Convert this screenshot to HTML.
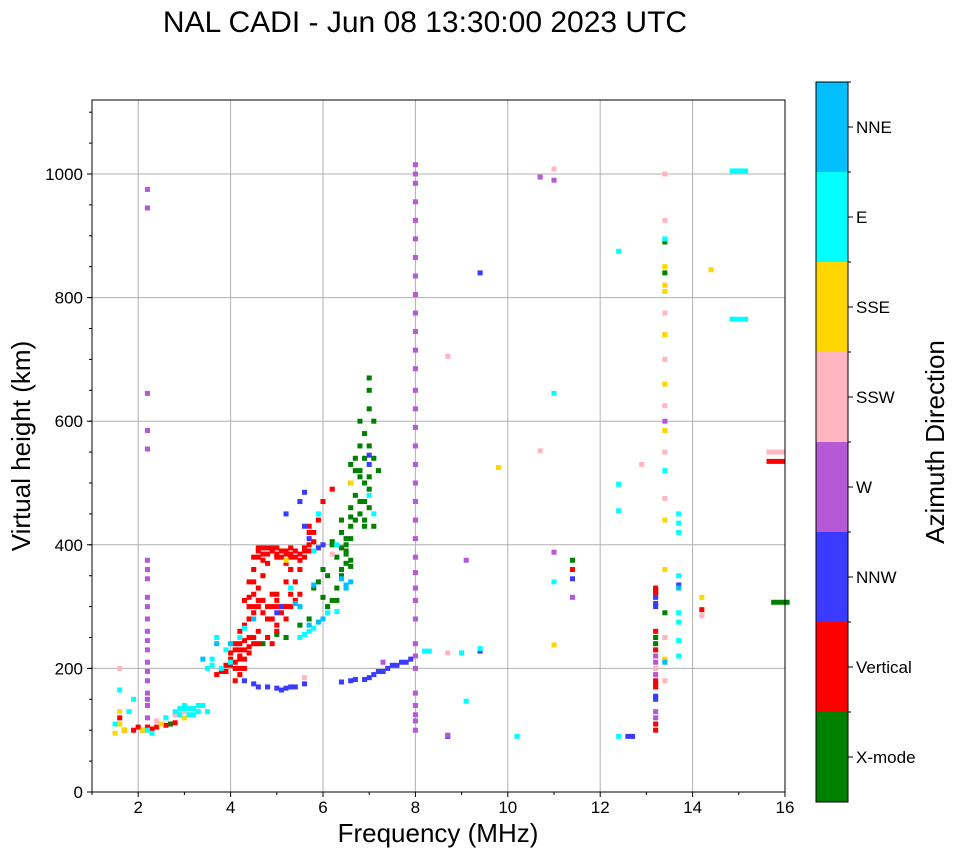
<!DOCTYPE html>
<html><head><meta charset="utf-8"><style>
body{margin:0;background:#fff;font-family:"Liberation Sans",sans-serif}
svg text{font-family:"Liberation Sans",sans-serif}
</style></head><body>
<svg id="chart" width="958" height="857">
<text x="425" y="32" font-size="30" text-anchor="middle">NAL CADI - Jun 08 13:30:00 2023 UTC</text>
<g id="grid"></g><g id="marks"></g><g id="axes"></g><g id="cbar"></g>
</svg>
<script>
const xTicks=[2,4,6,8,10,12,14,16];
const yTicks=[0,200,400,600,800,1000];
const dirLabels=["X-mode","Vertical","NNW","W","SSW","SSE","E","NNE"];
const dirColors=["#008000","#ff0000","#3b3bff","#b659d6","#ffb6c1","#ffd700","#00ffff","#00bfff"];
const xmode=[[6.2,310],[6.3,330],[6.4,350],[6.5,370],[6.3,380],[6.5,400],[6.6,410],[6.4,420],[6.6,430],[6.7,440],[6.8,450],[6.6,460],[6.7,480],[6.6,500],[6.8,520],[6.6,530],[6.7,540],[6.9,470],[7.0,490],[7.0,510],[7.1,540],[7.0,560],[6.9,580],[7.1,600],[7.0,620],[7.0,650],[7.0,670],[6.8,600],[6.8,560],[7.1,430],[6.9,430],[6.2,400],[6.0,360],[5.9,340],[5.8,330],[5.2,250],[5.0,255],[4.7,240],[13.2,250],[13.2,240],[13.4,890],[13.4,840],[13.4,290],[15.9,307,0.4],[11.4,375],[2.7,110],[6.4,440],[6.5,390],[7.2,520],[6.9,540],[6.5,410],[6.6,375],[6.4,360],[6.3,310],[6.1,300],[6.2,405],[6.4,395],[6.5,385],[6.6,365],[6.1,350],[6.0,315],[5.7,280],[5.5,270],[6.8,510],[6.9,500],[6.7,520],[6.8,470],[7.0,460],[6.9,440],[6.6,445]];
const vertical=[[4.1,180],[4.2,190],[4.1,210],[4.2,220],[4.3,230],[4.2,240],[4.4,250],[4.5,240],[4.6,260],[4.8,250],[4.9,240],[5.0,260],[4.3,270],[4.4,280],[4.5,290],[4.6,300],[4.7,310],[4.8,300],[4.9,320],[5.0,300],[5.1,290],[5.2,280],[5.3,300],[5.4,310],[4.5,320],[4.6,330],[4.4,340],[4.7,350],[4.5,360],[4.8,370],[4.5,380],[4.6,390],[4.7,385],[4.8,395],[4.9,390],[5.0,380],[5.1,390],[5.2,385],[5.3,380],[5.4,390],[5.5,375],[5.6,380],[5.7,390],[5.8,420],[5.7,430],[5.9,440],[6.0,470],[6.2,490],[5.4,340],[5.3,360],[5.5,320],[4.4,300],[4.3,310],[4.9,280],[5.0,270],[4.2,200],[4.3,215],[4.0,205],[3.9,195],[4.4,235],[4.6,395],[4.7,375],[5.0,395],[5.2,370],[5.3,395],[4.2,260],[4.1,230],[4.0,225],[4.1,240],[4.2,215],[4.3,245],[4.1,200],[4.3,200],[4.2,230],[4.0,215],[4.4,225],[4.5,250],[4.6,240],[4.5,300],[4.6,310],[4.4,315],[4.5,340],[4.9,300],[5.1,300],[5.2,300],[5.0,310],[4.9,395],[5.0,385],[5.1,380],[4.8,385],[4.7,395],[4.6,380],[5.2,390],[5.3,385],[5.4,380],[5.5,385],[5.6,390],[5.7,400],[5.8,405],[5.7,420],[5.5,360],[5.6,395],[4.7,290],[4.8,280],[5.0,320],[5.2,340],[5.3,320],[3.7,190],[3.8,195],[3.9,205],[1.7,100],[1.9,100],[2.0,105],[2.2,105],[2.4,105],[2.6,108],[2.8,112],[1.6,120],[2.1,100],[2.3,102],[13.2,100],[13.2,110],[13.2,170],[13.2,180],[13.2,230],[13.2,260],[13.2,320],[13.2,330],[13.2,325],[13.2,175],[14.2,295],[15.8,535,0.4],[11.4,360]];
const nnw=[[4.6,170],[4.8,170],[5.0,168],[5.1,165],[5.2,168],[5.3,170],[5.4,170],[4.3,180],[4.5,175],[5.6,175],[6.4,178],[6.6,180],[6.7,182],[6.9,182],[7.0,185],[7.1,190],[7.2,195],[7.3,195],[7.4,200],[7.5,205],[7.6,205],[7.7,210],[7.8,210],[7.9,215],[8.7,90],[9.4,840],[9.4,228],[11.4,345],[12.6,90],[12.7,90],[13.2,315],[13.2,305],[13.2,300],[13.2,155],[13.2,150],[5.6,430],[5.7,410],[5.5,470],[5.6,485],[5.2,450],[7.0,530],[7.0,545],[13.7,335],[6.0,400],[5.9,395],[5.0,290],[5.1,300]];
const wdir=[[8,100],[8,115],[8,125],[8,140],[8,160],[8,200],[8,220],[8,240],[8,280],[8,310],[8,330],[8,355],[8,380],[8,410],[8,440],[8,470],[8,500],[8,530],[8,560],[8,590],[8,620],[8,650],[8,685],[8,715],[8,745],[8,775],[8,805],[8,835],[8,865],[8,895],[8,925],[8,955],[8,985],[8,1000],[8,1015],[2.2,120],[2.2,140],[2.2,150],[2.2,160],[2.2,180],[2.2,195],[2.2,210],[2.2,230],[2.2,245],[2.2,260],[2.2,280],[2.2,300],[2.2,315],[2.2,345],[2.2,360],[2.2,375],[2.2,555],[2.2,585],[2.2,645],[2.2,945],[2.2,975],[13.2,220],[13.2,210],[13.2,130],[13.2,120],[13.2,190],[10.7,995],[11.0,990],[11.0,388],[11.4,315],[9.1,375],[8.7,92],[13.4,600],[7.3,210]];
const ssw=[[1.6,200],[2.4,115],[2.6,120],[2.8,125],[3.0,130],[13.4,1000],[13.4,925],[13.4,775],[13.4,740],[13.4,700],[13.4,625],[13.4,550],[13.4,475],[13.4,250],[13.4,180],[12.9,530],[8.7,705],[8.7,225],[11.0,1008],[10.7,552],[15.8,550,0.4],[14.2,285],[6.2,385],[5.6,185],[13.2,200]];
const sse=[[1.5,95],[1.6,110],[1.6,130],[1.7,100],[2.1,100],[2.5,110],[3.0,120],[13.4,850],[13.4,820],[13.4,810],[13.4,740],[13.4,660],[13.4,585],[13.4,440],[13.4,360],[13.4,215],[14.4,845],[14.2,315],[9.8,525],[11.0,238],[6.6,500],[5.2,375]];
const east=[[1.5,110],[1.6,165],[1.8,130],[1.9,150],[2.2,100],[2.3,95],[2.6,120],[2.8,130],[2.9,135],[3.0,140],[3.1,125],[3.2,135],[3.3,130],[3.4,140],[3.5,130],[3.6,215],[3.7,250],[3.8,200],[3.9,230],[4.0,210],[3.5,200],[3.6,205],[4.3,265],[5.5,250],[5.6,255],[5.7,260],[5.8,265],[6.1,290],[6.3,292],[5.3,330],[5.8,390],[5.9,450],[6.3,400],[7.0,480],[7.1,450],[8.2,228],[8.3,228],[9.0,225],[9.4,232],[10.2,90],[12.4,875],[12.4,90],[12.4,498],[12.4,455],[11.0,645],[11.0,340],[13.4,895],[13.4,520],[13.7,450],[13.7,435],[13.7,420],[13.7,350],[13.7,290],[13.7,275],[13.7,245],[13.7,220],[15.0,1005,0.4],[15.0,765,0.4],[9.1,147],[4.2,250],[3.1,135],[3.2,125],[3.3,140],[2.9,125],[3.0,135]];
const nne=[[5.8,335],[6.5,330],[6.4,345],[6.6,340],[4.0,240],[3.7,240],[5.9,275],[6.0,280],[5.7,270],[6.5,335],[4.5,280],[5.5,300],[5.4,305],[3.4,215],[13.4,210],[13.7,330]];
const series=[xmode,vertical,nnw,wdir,ssw,sse,east,nne];

const L=92,R=785,T=100,B=792,NS="http://www.w3.org/2000/svg";
const xs=f=>L+(f-1)/15*(R-L);
const ys=h=>B-h*0.618;
function mk(tag,attrs,parent){const e=document.createElementNS(NS,tag);for(const k in attrs)e.setAttribute(k,attrs[k]);parent.appendChild(e);return e;}
const grid=document.getElementById('grid'),marks=document.getElementById('marks'),axes=document.getElementById('axes'),cbar=document.getElementById('cbar');
xTicks.forEach(t=>{const l=mk('line',{x1:xs(t),x2:xs(t),y1:T,y2:B,stroke:'#b0b0b0','stroke-width':1},grid);

});
yTicks.forEach(t=>{const l=mk('line',{x1:L,x2:R,y1:ys(t),y2:ys(t),stroke:'#b0b0b0','stroke-width':1},grid);

});
series.forEach((s,i)=>{s.forEach(p=>{const w=(p[2]||0.11)/15*(R-L);
const r=mk('rect',{x:xs(p[0])-w/2,y:ys(p[1])-2.5,width:w,height:5,fill:dirColors[i]},marks);

});});
mk('rect',{x:L,y:T,width:R-L,height:B-T,fill:'none',stroke:'#000','stroke-width':1},axes);
xTicks.forEach(t=>{mk('line',{x1:xs(t),x2:xs(t),y1:B,y2:B+5,stroke:'#000'},axes);
const tx=mk('text',{x:xs(t),y:B+21,'font-size':17,'text-anchor':'middle'},axes);tx.textContent=t;

});
[1,3,5,7,9,11,13,15].forEach(t=>mk('line',{x1:xs(t),x2:xs(t),y1:B,y2:B+3,stroke:'#000'},axes));
yTicks.forEach(t=>{mk('line',{x1:L-5,x2:L,y1:ys(t),y2:ys(t),stroke:'#000'},axes);
const tx=mk('text',{x:L-9,y:ys(t)+6,'font-size':17,'text-anchor':'end'},axes);tx.textContent=t;

});
for(let h=50;h<1120;h+=50)mk('line',{x1:L-3,x2:L,y1:ys(h),y2:ys(h),stroke:'#000'},axes);
const xt=mk('text',{x:438,y:842,'font-size':26,'text-anchor':'middle'},axes);xt.textContent='Frequency (MHz)';


const yt=mk('text',{x:30,y:446,'font-size':26,'text-anchor':'middle',transform:'rotate(-90 30 446)'},axes);yt.textContent='Virtual height (km)';


const cT=82,cB=802,cL=816,cW=32,seg=(cB-cT)/8;
dirLabels.forEach((d,i)=>{const y0=cB-(i+1)*seg;
const r=mk('rect',{x:cL,y:y0,width:cW,height:seg,fill:dirColors[i]},cbar);


mk('line',{x1:cL+cW,x2:cL+cW+5,y1:y0+seg/2,y2:y0+seg/2,stroke:'#000'},cbar);
mk('line',{x1:cL+cW,x2:cL+cW+3,y1:y0,y2:y0,stroke:'#000'},cbar);
const t=mk('text',{x:cL+cW+8,y:y0+seg/2+6,'font-size':17},cbar);t.textContent=d;

});
mk('rect',{x:cL,y:cT,width:cW,height:cB-cT,fill:'none',stroke:'#000'},cbar);
const ct=mk('text',{x:944,y:442,'font-size':26,'text-anchor':'middle',transform:'rotate(-90 944 442)'},cbar);ct.textContent='Azimuth Direction';


</script>
</body></html>
